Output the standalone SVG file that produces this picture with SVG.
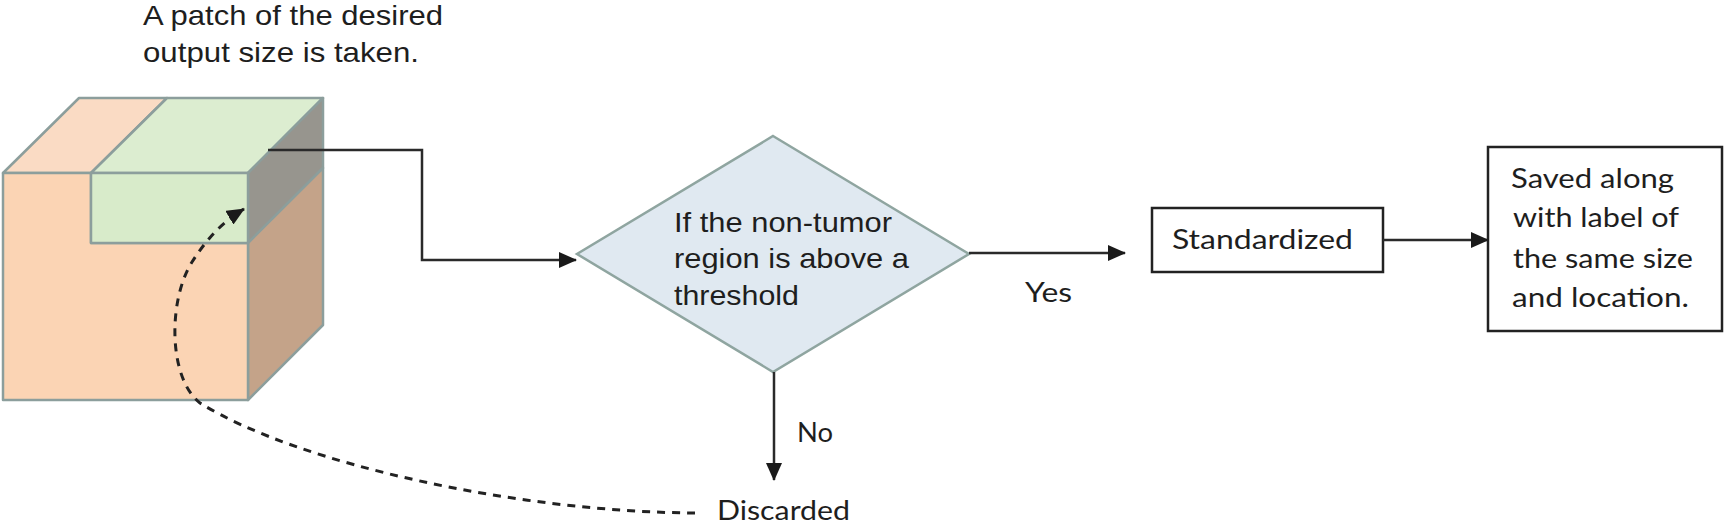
<svg xmlns="http://www.w3.org/2000/svg" width="1725" height="526" viewBox="0 0 1725 526">
<defs>
<style>
.face{stroke:#8C9E9C;stroke-width:2.5;stroke-linejoin:round}
.sans{font-family:"Liberation Sans",Arial,sans-serif;font-size:28px;fill:#1e1e1e}
.cal{font-family:Lato,"Open Sans",sans-serif;font-size:27px;fill:#1e1e1e}
.box{fill:#ffffff;stroke:#222;stroke-width:2.5}
.conn{fill:none;stroke:#2a2a2a;stroke-width:2.5}
.dash{fill:none;stroke:#222;stroke-width:3;stroke-dasharray:8 7}
</style>
<marker id="ah" markerUnits="userSpaceOnUse" markerWidth="18" markerHeight="16" refX="17" refY="8" orient="auto">
<path d="M0,0 L18,8 L0,16 z" fill="#1a1a1a"/>
</marker>
</defs>
<rect width="1725" height="526" fill="#ffffff"/>

<g id="caption">
<text class="sans" x="143" y="25" textLength="300" lengthAdjust="spacingAndGlyphs">A patch of the desired</text>
<text class="sans" x="143" y="62" textLength="276" lengthAdjust="spacingAndGlyphs">output size is taken.</text>
</g>

<g id="cube">
<polygon class="face" fill="#FADBC4" points="3,173 91,173 167,98 79,98"/>
<polygon class="face" fill="#DCEDD0" points="91,173 248,173 323,98 167,98"/>
<polygon class="face" fill="#97958E" points="248,173 323,98 323,168 248,243"/>
<polygon class="face" fill="#C4A389" points="248,243 323,168 323,325 248,400"/>
<polygon class="face" fill="#FBD4B4" points="3,173 91,173 91,243 248,243 248,400 3,400"/>
<rect class="face" fill="#D8EBCA" x="91" y="173" width="157" height="70"/>
</g>

<g id="decision">
<polygon fill="#E0E9F1" stroke="#8FA5A0" stroke-width="2.5" points="773,136 969,254 773,372 577,254"/>
<text class="sans" x="674" y="232" textLength="218" lengthAdjust="spacingAndGlyphs">If the non-tumor</text>
<text class="sans" x="674" y="268" textLength="235" lengthAdjust="spacingAndGlyphs">region is above a</text>
<text class="sans" x="674" y="305" textLength="125" lengthAdjust="spacingAndGlyphs">threshold</text>
</g>

<g id="standardized">
<rect class="box" x="1152" y="208" width="231" height="64"/>
<text class="cal" x="1172" y="249" textLength="181" lengthAdjust="spacingAndGlyphs">Standardized</text>
</g>

<g id="saved">
<rect class="box" x="1488" y="147" width="234" height="184"/>
<text class="cal" x="1511" y="188" textLength="163" lengthAdjust="spacingAndGlyphs">Saved along</text>
<text class="cal" x="1513" y="227" textLength="166" lengthAdjust="spacingAndGlyphs">with label of</text>
<text class="cal" x="1513" y="268" textLength="180" lengthAdjust="spacingAndGlyphs">the same size</text>
<text class="cal" x="1512" y="307" textLength="177" lengthAdjust="spacingAndGlyphs">and location.</text>
</g>

<g id="discarded">
<text class="cal" x="717" y="520" textLength="133" lengthAdjust="spacingAndGlyphs">Discarded</text>
</g>

<g id="connectors">
<path class="conn" d="M268,150 L422,150 L422,260 L576,260" marker-end="url(#ah)"/>
<path class="conn" d="M969,253 L1125,253" marker-end="url(#ah)"/>
<path class="conn" d="M1383,240 L1488,240" marker-end="url(#ah)"/>
<path class="conn" d="M774,372 L774,480" marker-end="url(#ah)"/>
<path class="dash" d="M695,513 C520,512 300,465 200,403 C168,378 168,300 192,262 C206,240 222,222 244,209" marker-end="url(#ah)"/>
<text class="cal" x="1025" y="302" textLength="47" lengthAdjust="spacingAndGlyphs">Yes</text>
<text class="cal" x="797" y="442" textLength="36" lengthAdjust="spacingAndGlyphs">No</text>
</g>
</svg>
